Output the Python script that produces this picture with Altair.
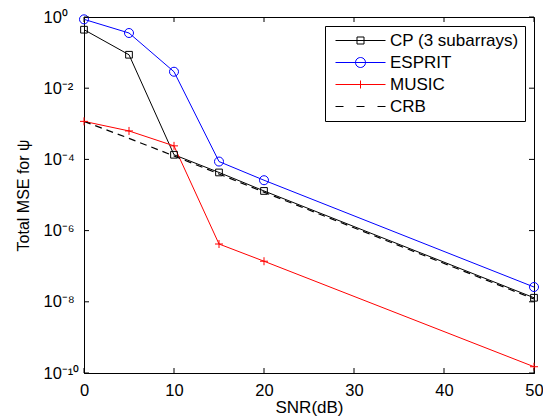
import math
import altair as alt
import pandas as pd

# ---------------- data ----------------
snr = [0, 5, 10, 15, 20, 50]
cp_mse = [0.44, 0.087, 1.35e-4, 4.3e-5, 1.3e-5, 1.3e-8]
esprit_mse = [0.86, 0.355, 0.029, 8.7e-5, 2.6e-5, 2.6e-8]
music_mse = [1.17e-3, 6.3e-4, 2.4e-4, 4.2e-7, 1.38e-7, 1.5e-10]
crb_mse = [1.17e-3, 3.9e-4, 1.25e-4, 3.9e-5, 1.2e-5, 1.2e-8]

names = ["CP (3 subarrays)", "ESPRIT", "MUSIC", "CRB"]
colors = ["#000000", "#0000ff", "#ff0000", "#000000"]

x_ticks = [0, 10, 20, 30, 40, 50]
y_ticks = [1, 1e-2, 1e-4, 1e-6, 1e-8, 1e-10]
y_tick_labels = ["10⁰", "10⁻²", "10⁻⁴", "10⁻⁶", "10⁻⁸", "10⁻¹⁰"]

# ---------------- layout / style ----------------
W, H = 450, 356
FONT = "Liberation Sans"

rows = []
for name, vals in zip(names, [cp_mse, esprit_mse, music_mse, crb_mse]):
    for s, v in zip(snr, vals):
        rows.append({"series": name, "snr": s, "mse": v})
df = pd.DataFrame(rows)

# y tick label expression (superscript exponents)
expr = "''"
for v, lab in zip(y_ticks, y_tick_labels):
    e = round(math.log10(v))
    expr = f"round(log(datum.value)/LN10) == {e} ? '{lab}' : ({expr})"

x_axis = alt.Axis(values=x_ticks, title="SNR(dB)", labelPadding=9, titlePadding=1,
                  labelFlush=False, labelOverlap=False, format="d",
                  labelFontSize=16.5, titleFontSize=17)
y_axis = alt.Axis(values=y_ticks, labelExpr=expr, title="Total MSE for ψ",
                  labelAlign="left", labelPadding=41, labelBaseline="middle",
                  labelFlush=False, labelOverlap=False, labelFontSize=16.5,
                  titleFontSize=16,
                  titleX=-61, titleY=H / 2, titleAngle=270, titleAlign="center",
                  titleBaseline="middle")

xscale = alt.Scale(domain=[0, 50], nice=False, zero=False)
yscale = alt.Scale(type="log", domain=[1e-10, 1], nice=False)
X = alt.X("snr:Q", scale=xscale, axis=x_axis)
Y = alt.Y("mse:Q", scale=yscale, axis=y_axis)

base = alt.Chart(df)

plus_path = "M-1,0H1M0,-1V1"
marker_shapes = {"CP (3 subarrays)": ("square", 45), "ESPRIT": ("circle", 81), "MUSIC": (plus_path, 64)}

layers = []
for name, col in zip(names, colors):
    sub = base.transform_filter(alt.datum.series == name)
    if name == "CRB":
        layers.append(sub.mark_line(color=col, strokeWidth=1.2, strokeDash=[7, 5]).encode(x=X, y=Y))
    else:
        layers.append(sub.mark_line(color=col, strokeWidth=1).encode(x=X, y=Y))
for name, col in zip(names, colors):
    if name in marker_shapes:
        shp, sz = marker_shapes[name]
        sub = base.transform_filter(alt.datum.series == name)
        layers.append(sub.mark_point(shape=shp, size=sz, filled=False, color=col,
                                     strokeWidth=1, opacity=1).encode(x=X, y=Y))

# inner ticks (MATLAB style box)
xt = pd.DataFrame({"snr": x_ticks})
yt = pd.DataFrame({"mse": y_ticks})
tick_style = dict(color="black", strokeWidth=1)
layers += [
    alt.Chart(xt).mark_rule(**tick_style).encode(x=X, y=alt.value(H), y2=alt.value(H - 5)),
    alt.Chart(xt).mark_rule(**tick_style).encode(x=X, y=alt.value(0), y2=alt.value(5)),
    alt.Chart(yt).mark_rule(**tick_style).encode(y=Y, x=alt.value(0), x2=alt.value(5)),
    alt.Chart(yt).mark_rule(**tick_style).encode(y=Y, x=alt.value(W - 5), x2=alt.value(W)),
]

# legend glyphs: line + marker, drawn as custom symbol paths (unit = 8px)
def circle_path(cx, r, n=24):
    pts = []
    for i in range(n + 1):
        a = 2 * math.pi * i / n
        pts.append(f"{cx + r * math.cos(a):.4f},{r * math.sin(a):.4f}")
    return "M" + "L".join(pts) + "Z"

L0, L1, MC = -0.5, 5.75, 2.625
line = f"M{L0},0H{L1}"
legend_paths = [
    line + f"M{MC-0.4375},-0.4375H{MC+0.4375}V0.4375H{MC-0.4375}Z",
    line + circle_path(MC, 0.625),
    line + f"M{MC-0.5},0H{MC+0.5}M{MC},-0.5V0.5",
    f"M{L0},0H{L0+1}M{MC-0.5},0H{MC+0.5}M{L1-1},0H{L1}",
]

LEG = alt.Legend(title=None, orient="top-right", offset=9, padding=6, rowPadding=4,
                 labelOffset=42, labelFont=FONT, labelFontSize=17, labelColor="black",
                 labelLimit=400, symbolSize=256, symbolStrokeWidth=1, symbolOpacity=1,
                 symbolFillColor="transparent", strokeColor="black", fillColor="white")

legend_layer = alt.Chart(pd.DataFrame({"series": names})).mark_point(
    filled=False, opacity=0).encode(
    shape=alt.Shape("series:N", scale=alt.Scale(domain=names, range=legend_paths), legend=LEG),
    color=alt.Color("series:N", scale=alt.Scale(domain=names, range=colors), legend=LEG),
)
layers.append(legend_layer)

chart = alt.layer(*layers).properties(
    width=W, height=H, autosize="none",
    padding={"left": 76, "top": 9, "right": 9, "bottom": 45},
).configure_view(stroke="black", strokeWidth=1).configure_axis(
    domainColor="black", domainWidth=1, grid=False, ticks=False, tickSize=0,
    labelFont=FONT, labelFontSize=16, labelColor="black",
    titleFont=FONT, titleFontSize=16, titleFontWeight="normal", titleColor="black",
)

chart.save("out.html", embed_options={"renderer": "svg", "actions": False})
